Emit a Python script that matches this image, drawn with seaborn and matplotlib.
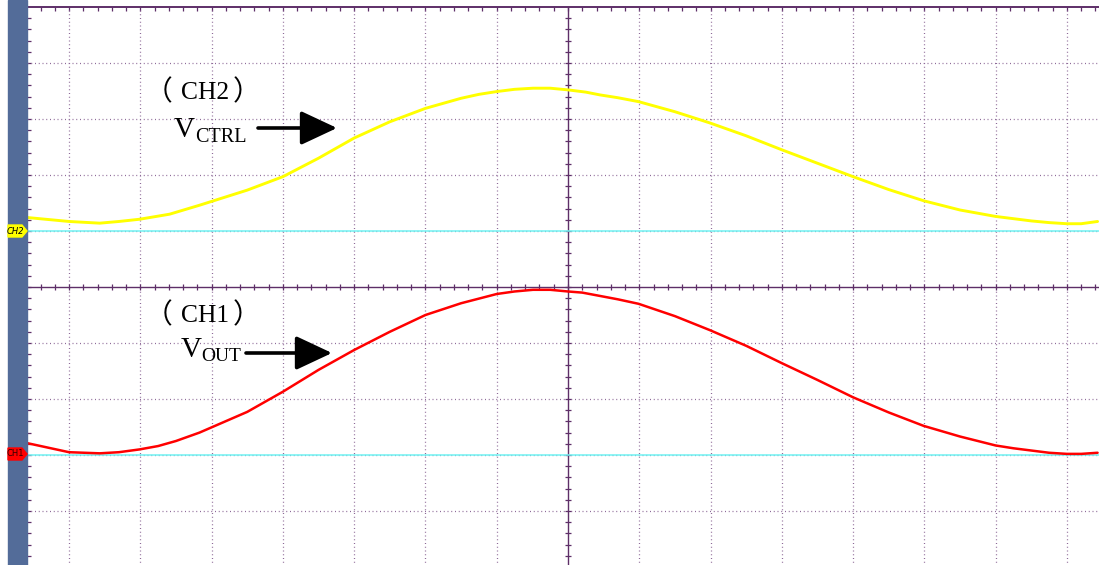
import numpy as np
import pandas as pd
import matplotlib
matplotlib.use('Agg')
import matplotlib.pyplot as plt
from matplotlib.patches import Polygon, Rectangle, FancyArrowPatch
from matplotlib.transforms import Affine2D
import seaborn as sns

# traces, in divisions from the screen centre
ch2_x = [-7.58, -7.00, -6.57, -6.30, -6.01, -5.59, -5.17, -4.50, -4.00, -3.50, -3.00, -2.50,
         -2.00, -1.50, -1.25, -1.00, -0.75, -0.49, -0.25, 0.00, 0.25, 0.45, 0.70, 0.99,
         1.50, 1.99, 2.50, 3.00, 3.50, 4.00, 4.50, 4.99, 5.50, 6.00, 6.25, 6.50, 6.75,
         7.00, 7.20, 7.43]
ch2_y = [1.24, 1.17, 1.14, 1.17, 1.21, 1.30, 1.46, 1.73, 1.97, 2.30, 2.66, 2.95,
         3.19, 3.37, 3.44, 3.49, 3.53, 3.55, 3.55, 3.52, 3.48, 3.43, 3.38, 3.31,
         3.13, 2.93, 2.70, 2.45, 2.21, 1.97, 1.74, 1.54, 1.375, 1.26, 1.22, 1.18, 1.15,
         1.13, 1.13, 1.17]

ch1_x = [-7.58, -7.00, -6.57, -6.30, -6.01, -5.75, -5.50, -5.17, -4.50, -4.00, -3.50, -3.00,
         -2.50, -2.00, -1.50, -1.00, -0.75, -0.49, -0.25, 0.00, 0.20, 0.45, 0.70, 0.99,
         1.50, 1.99, 2.50, 3.00, 3.50, 4.00, 4.50, 4.99, 5.50, 6.00, 6.25, 6.50, 6.75,
         7.00, 7.20, 7.43]
ch1_y = [-2.79, -2.95, -2.97, -2.95, -2.90, -2.84, -2.75, -2.60, -2.23, -1.87, -1.48, -1.125,
         -0.80, -0.50, -0.29, -0.125, -0.08, -0.05, -0.05, -0.08, -0.10, -0.16, -0.22, -0.30,
         -0.52, -0.77, -1.05, -1.36, -1.66, -1.97, -2.24, -2.48, -2.67, -2.83, -2.88, -2.92, -2.96,
         -2.98, -2.98, -2.96]

ch2_ref = 1.0
ch1_ref = -3.0

W, H = 1099, 565
purple = '#5e2f68'
grid_col = '#8e6a98'

sns.set_style('white')
fig = plt.figure(figsize=(W / 100, H / 100), dpi=100)
pix = Affine2D().scale(1 / W, -1 / H).translate(0, 1) + fig.transFigure

# screen area: left edge at x=27px, top at y=7px, bottom just below the picture
ax = fig.add_axes([27 / W, (H - 567) / H, (W - 27) / W, 560 / H])
ax.set_xlim(-7.59, 7.45)
ax.set_ylim(-5, 5)

# graticule
for gx in range(-7, 8):
    if gx != 0:
        ax.axvline(gx, color=grid_col, lw=0.9, dashes=(0.8, 2.2), zorder=1)
for gy in range(-4, 5):
    if gy != 0:
        ax.axhline(gy, color=grid_col, lw=0.9, dashes=(0.8, 2.2), zorder=1)
ax.axvline(0, color=purple, lw=1.0, zorder=1)
ax.axhline(0, color=purple, lw=1.0, zorder=1)
sub_x = np.arange(-7.4, 7.5, 0.2)
sub_y = np.arange(-4.8, 5.0, 0.2)
ax.plot(sub_x, np.zeros_like(sub_x), ls='none', marker='|', ms=5, mew=0.9, color=purple, zorder=1)
ax.plot(np.zeros_like(sub_y), sub_y, ls='none', marker='_', ms=5, mew=0.9, color=purple, zorder=1)

ax.set_xticks(np.arange(-7, 8, 1))
ax.set_xticks(np.arange(-7.4, 7.5, 0.2), minor=True)
ax.set_yticks(np.arange(-4, 5, 1))
ax.set_yticks(np.arange(-4.8, 5.0, 0.2), minor=True)
ax.xaxis.tick_top()
ax.tick_params(which='both', direction='in', length=3, width=0.9, color=purple,
               labeltop=False, labelleft=False, labelbottom=False, top=True, left=True,
               bottom=False, right=False)
for side in ['bottom', 'right']:
    ax.spines[side].set_visible(False)
for side in ['top', 'left']:
    ax.spines[side].set_color(purple)
    ax.spines[side].set_linewidth(1.4)

# reference levels
ax.axhline(ch2_ref, color='#70f2f2', lw=1.1, zorder=2)
ax.axhline(ch1_ref, color='#70f2f2', lw=1.1, zorder=2)

df2 = pd.DataFrame({'t': ch2_x, 'v': ch2_y})
df1 = pd.DataFrame({'t': ch1_x, 'v': ch1_y})
sns.lineplot(data=df2, x='t', y='v', ax=ax, color='#ffff00', lw=2.1, estimator=None, sort=False, zorder=3)
sns.lineplot(data=df1, x='t', y='v', ax=ax, color='#ff0000', lw=1.8, estimator=None, sort=False, zorder=3)
ax.set_xlabel('')
ax.set_ylabel('')

# blue side bar and channel tags
fig.patches.append(Rectangle((8, 0), 19, H, transform=pix, color='#536c99', zorder=0))
fig.patches.append(Polygon([(8, 225), (22, 225), (27, 231), (22, 237), (8, 237)], closed=True,
                           transform=pix, color='#ffff00', zorder=5))
fig.patches.append(Polygon([(8, 448), (22, 448), (27, 454), (22, 460), (8, 460)], closed=True,
                           transform=pix, color='#ff0000', zorder=5))
fig.text(15.5, 231, 'CH2', transform=pix, fontsize=6, style='italic', color='black',
         ha='center', va='center', zorder=6)
fig.text(15.5, 454, 'CH1', transform=pix, fontsize=6, color='#300000',
         ha='center', va='center', zorder=6)

# annotations
cjk = ['Noto Sans CJK SC']
serif = ['Liberation Serif']
for (yb, name) in [(99, 'CH2'), (322, 'CH1')]:
    fig.text(145, yb + 1, '（', transform=pix, fontsize=20, family=cjk, color='black', va='baseline')
    fig.text(181, yb, name, transform=pix, fontsize=18.4, family=serif, color='black', va='baseline')
    fig.text(233, yb + 1, '）', transform=pix, fontsize=20, family=cjk, color='black', va='baseline')
fig.text(174, 137, 'V', transform=pix, fontsize=21, family=serif, color='black', ha='left', va='baseline')
fig.text(195, 142, 'CTRL', transform=pix, fontsize=14.5, family=serif, color='black', ha='left', va='baseline')
fig.text(181, 357, 'V', transform=pix, fontsize=21, family=serif, color='black', ha='left', va='baseline')
fig.text(201, 361, 'OUT', transform=pix, fontsize=14, family=serif, color='black', ha='left', va='baseline')

arrow_kw = dict(arrowstyle='-|>,head_length=1.6,head_width=0.75', color='black', lw=2.6,
                shrinkA=0, shrinkB=0, mutation_scale=14, transform=pix)
fig.add_artist(FancyArrowPatch((258, 128), (337, 128), **arrow_kw))
fig.add_artist(FancyArrowPatch((246, 353), (332, 353), **arrow_kw))

fig.savefig('out.png', dpi=100)
